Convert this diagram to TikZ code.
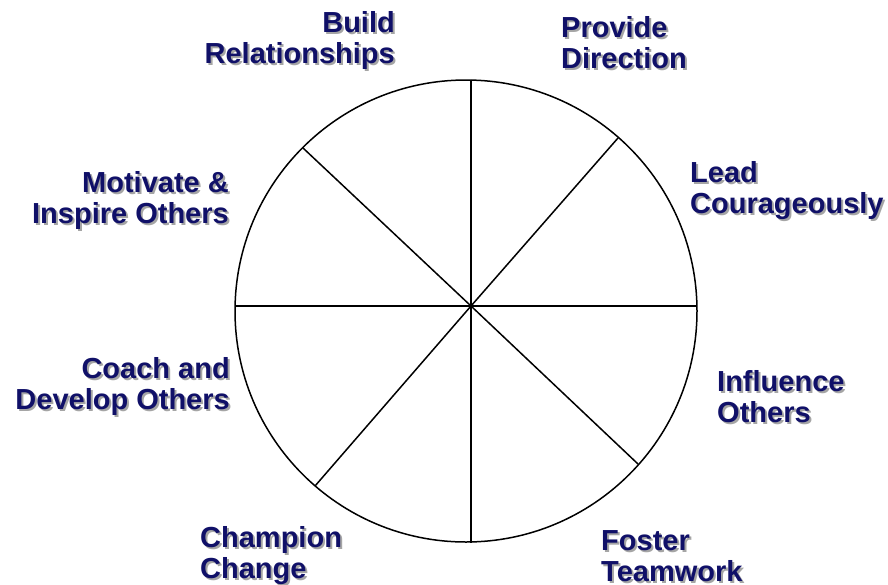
\documentclass[tikz,border=0pt]{standalone}
\usepackage{fontspec}
\setmainfont{Liberation Sans}
\usepackage{tikz}
\usetikzlibrary{positioning}
\definecolor{navy}{RGB}{16,16,104}
\definecolor{shade}{RGB}{165,165,165}

\begin{document}
\begin{tikzpicture}[x=1pt, y=-1pt]
\tikzstyle{lbl}=[inner sep=0pt, text=navy, font=\fontsize{29}{31}\selectfont\bfseries]
\tikzstyle{shd}=[lbl, text=shade, xshift=2pt, yshift=-2pt]
\tikzstyle{spoke}=[draw, line width=1.5pt]

\useasboundingbox (0,0) rectangle (888,584);

\coordinate (hub) at (471,306);
\coordinate (top) at (471,79.5);
\coordinate (bottom) at (471,543);
\coordinate (left) at (236,306);
\coordinate (right) at (696,306);
\coordinate (ul) at (303,148);
\coordinate (ur) at (618,138);
\coordinate (lr) at (638,464);
\coordinate (ll) at (315,486);

\draw[line width=1.5pt] (466,311) circle (231pt);
\path[spoke] (top) -- (bottom);
\path[spoke] (left) -- (right);
\path[spoke] (ul) -- (hub) -- (lr);
\path[spoke] (ur) -- (hub) -- (ll);

% shadows first, then the text (anchored at the last line)
\foreach \name/\pos/\anc/\al/\txt in {
    build/{(395,63)}/base east/right/{Build\\Relationships},
    direction/{(561,68)}/base west/left/{Provide\\Direction},
    courage/{(690,213)}/base west/left/{Lead\\Courageously},
    motivate/{(229,223)}/base east/right/{Motivate \&\\Inspire Others},
    influence/{(717,422)}/base west/left/{Influence\\Others},
    coach/{(230,409)}/base east/right/{Coach and\\Develop Others},
    champion/{(200,578)}/base west/left/{Champion\\Change},
    foster/{(601,581)}/base west/left/{Foster\\Teamwork}}
{
    \node[shd, anchor=\anc, align=\al] (\name-shd) at \pos {\txt};
    \node[lbl, anchor=\anc, align=\al] (\name) at \pos {\txt};
}

\end{tikzpicture}
\end{document}
